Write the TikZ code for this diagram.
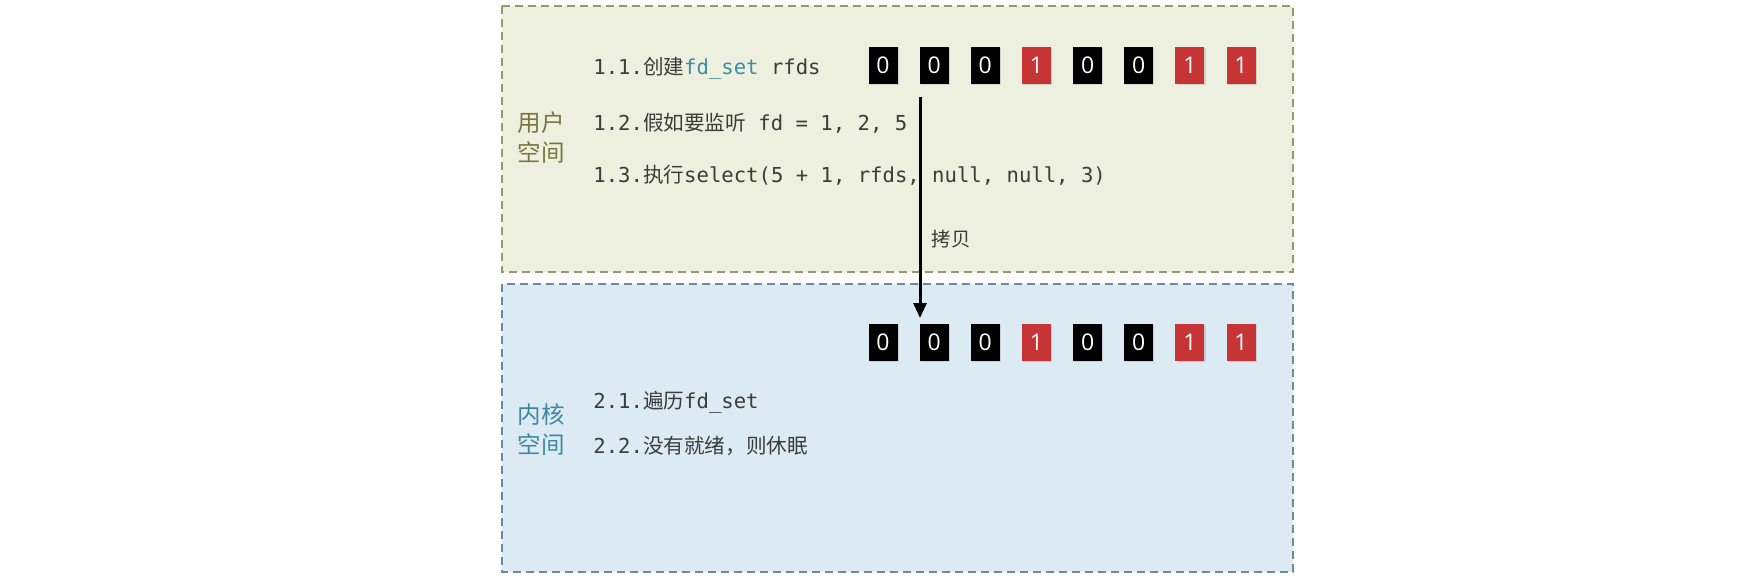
\documentclass[tikz,border=0pt]{standalone}
\usepackage{fontspec}
\setmonofont{DejaVu Sans Mono}
\newfontfamily\cjk{Noto Sans CJK SC}
\newfontfamily\digitfont{Open Sans}
\usetikzlibrary{arrows.meta,shadows}

\definecolor{userfill}{RGB}{238,240,223}
\definecolor{userline}{RGB}{150,152,112}
\definecolor{usertext}{RGB}{120,118,60}
\definecolor{kernfill}{RGB}{220,235,243}
\definecolor{kernline}{RGB}{108,138,156}
\definecolor{kerntext}{RGB}{60,138,160}
\definecolor{fdteal}{RGB}{58,143,163}
\definecolor{bodytext}{RGB}{60,60,60}
\definecolor{bitred}{RGB}{198,52,54}

\tikzset{
  spacebox/.style={line width=1pt, dash pattern=on 4pt off 2.5pt},
  bitbox/.style={minimum width=14.5pt, minimum height=18.5pt, inner sep=0pt,
    text=white, font=\digitfont\fontsize{11.5}{12}\selectfont,
    drop shadow={shadow xshift=0.6pt, shadow yshift=-0.8pt, opacity=0.25}},
  codeline/.style={anchor=west, inner sep=0pt, text=bodytext,
    font=\ttfamily\fontsize{10.3}{12}\selectfont},
  spacelabel/.style={align=center, inner sep=0pt,
    font=\cjk\fontsize{11.75}{15}\selectfont}
}

\begin{document}
\begin{tikzpicture}[x=0.5pt, y=-0.5pt]

    \useasboundingbox (0,0) rectangle (1742,578);

    % Espaces
    \filldraw[spacebox, fill=userfill, draw=userline] (502,6) rectangle (1293,272);
    \filldraw[spacebox, fill=kernfill, draw=kernline] (502,284) rectangle (1293,572);

    % Labels
    \node[spacelabel, text=usertext] (ulabel) at (541,138) {用户\\空间};
    \node[spacelabel, text=kerntext] (klabel) at (541,430) {内核\\空间};

    % Lignes de code
    \node[codeline] (u1) at (593,68) {1.1.{\cjk 创建}{\color{fdteal}fd\_set} rfds};
    \node[codeline] (u2) at (593,123) {1.2.{\cjk 假如要监听} fd = 1, 2, 5};
    \node[codeline] (u3) at (593,175) {1.3.{\cjk 执行}select(5 + 1, rfds, null, null, 3)};
    \node[codeline] (k1) at (593,402) {2.1.{\cjk 遍历}fd\_set};
    \node[codeline] (k2) at (593,446) {2.2.{\cjk 没有就绪，则休眠}};

    % Bits
    \foreach \b/\c [count=\i] in {0/black,0/black,0/black,1/bitred,0/black,0/black,1/bitred,1/bitred} {
        \node[bitbox, fill=\c] (t\i) at ({883+51.15*(\i-1)},65) {\b};
        \node[bitbox, fill=\c] (b\i) at ({883+51.15*(\i-1)},342) {\b};
    }

    % Copie
    \coordinate (cpfrom) at (920,97);
    \coordinate (cpto) at (920,318);
    \draw[-{Triangle[length=7.5pt,width=6.5pt]}, line width=1.5pt] (cpfrom) -- (cpto);
    \node[text=bodytext, font=\cjk\fontsize{9.75}{12}\selectfont] (copy) at (951,239) {拷贝};

\end{tikzpicture}
\end{document}
